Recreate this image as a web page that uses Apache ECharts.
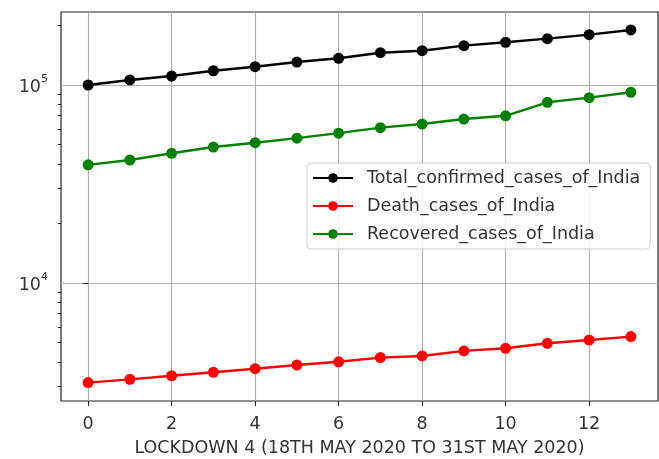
<!DOCTYPE html>
<html>
<head>
<meta charset="utf-8">
<script src="https://cdn.jsdelivr.net/npm/echarts@6/dist/echarts.min.js"></script>
<style>
  html, body { margin: 0; padding: 0; background: #fff; }
  #chart { width: 659px; height: 459px; }
</style>
</head>
<body>
<div id="chart"></div>
<script>
// day index inside lockdown 4
const days = [0, 1, 2, 3, 4, 5, 6, 7, 8, 9, 10, 11, 12, 13];
const totalCases = [100000, 106000, 111000, 118000, 123700, 130600, 136500, 145600, 149000, 158000, 164300, 171400, 179600, 189700];
const deathCases = [3140, 3260, 3400, 3540, 3690, 3850, 4000, 4200, 4280, 4540, 4680, 4960, 5150, 5360];
const recoveredCases = [39500, 41800, 45200, 48600, 51100, 53900, 57100, 60900, 63500, 67300, 69900, 81800, 86300, 91900];
const xTicks = [0, 2, 4, 6, 8, 10, 12];
const yMajor = [10000, 100000];
const yMinor = [3000, 4000, 5000, 6000, 7000, 8000, 9000, 20000, 30000, 40000, 50000, 60000, 70000, 80000, 90000, 200000];

const font = "DejaVu Sans";
const fs = 17.5;
const txt = "#333";

function pairs(vals) {
  return days.map((d, i) => [d, vals[i]]);
}

let option = {
  animation: false,
  grid: {
    left: 61, right: 1, top: 12, bottom: 58,
    outerBoundsMode: "none",
    show: true, borderColor: "#222", borderWidth: 1.2
  },
  legend: {
    left: 307, top: 163,
    orient: "vertical",
    itemWidth: 40, itemHeight: 12, itemGap: 8,
    padding: [5, 10, 5, 5],
    borderColor: "#cccccc", borderWidth: 1, borderRadius: 4,
    backgroundColor: "rgba(255,255,255,0.85)",
    textStyle: { fontFamily: font, fontSize: fs, color: txt, lineHeight: 20, padding: [0, 0, 0, 9] },
    data: ["Total_confirmed_cases_of_India", "Death_cases_of_India", "Recovered_cases_of_India"]
  },
  xAxis: {
    type: "value",
    min: -0.65, max: 13.65,
    name: "LOCKDOWN 4 (18TH MAY 2020 TO 31ST MAY 2020)",
    nameLocation: "middle", nameGap: 38,
    nameTextStyle: { fontFamily: font, fontSize: fs, color: txt },
    axisLine: { show: false },
    axisTick: { show: true, length: 5, lineStyle: { color: "#222" }, customValues: xTicks },
    axisLabel: { fontFamily: font, fontSize: fs, color: txt, margin: 14, customValues: xTicks },
    splitLine: { show: true, lineStyle: { color: "#b0b0b0", width: 1.1 } }
  },
  yAxis: [
    {
      type: "log",
      min: 2535, max: 233700,
      axisLine: { show: false },
      axisTick: { show: true, length: 5, lineStyle: { color: "#222" }, customValues: yMajor },
      axisLabel: {
        margin: 13, customValues: yMajor,
        formatter: function (v) {
          return "{b|10}{s|" + Math.round(Math.log10(v)) + "}";
        },
        rich: {
          b: { fontFamily: font, fontSize: fs, color: txt, lineHeight: 22, verticalAlign: "bottom" },
          s: { fontFamily: font, fontSize: 11, color: txt, lineHeight: 22, verticalAlign: "top" }
        }
      },
      splitLine: { show: true, lineStyle: { color: "#b0b0b0", width: 1.1 } }
    },
    {
      type: "log",
      min: 2535, max: 233700,
      position: "left",
      axisLine: { show: false },
      axisTick: { show: true, length: 3, lineStyle: { color: "#222" }, customValues: yMinor },
      axisLabel: { show: false },
      splitLine: { show: false }
    }
  ],
  series: [
    {
      name: "Total_confirmed_cases_of_India",
      type: "line",
      data: pairs(totalCases),
      color: "#000000",
      symbol: "circle", symbolSize: 11,
      lineStyle: { width: 2.4 }
    },
    {
      name: "Death_cases_of_India",
      type: "line",
      data: pairs(deathCases),
      color: "#ff0000",
      symbol: "circle", symbolSize: 11,
      lineStyle: { width: 2.4 }
    },
    {
      name: "Recovered_cases_of_India",
      type: "line",
      data: pairs(recoveredCases),
      color: "#008000",
      symbol: "circle", symbolSize: 11,
      lineStyle: { width: 2.4 }
    }
  ]
};

let myChart = echarts.init(document.getElementById("chart"));
myChart.setOption(option);
</script>
</body>
</html>
